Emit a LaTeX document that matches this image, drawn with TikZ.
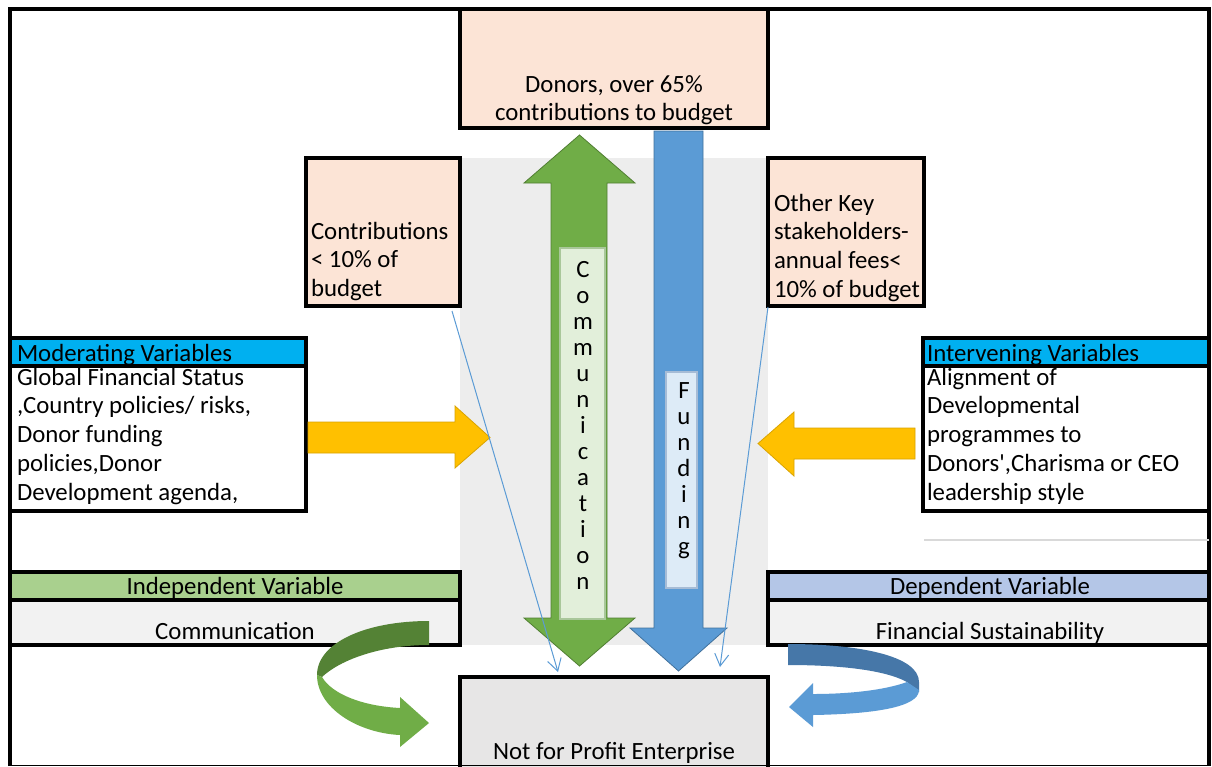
\documentclass[tikz,border=0pt]{standalone}
\usepackage{fontspec}
\setmainfont{Carlito}[Ligatures=TeXOff]
\usetikzlibrary{arrows.meta}
\definecolor{peach}{HTML}{FCE4D6}
\definecolor{cyanhead}{HTML}{00B0F0}
\definecolor{greenhead}{HTML}{A9D08E}
\definecolor{bluehead}{HTML}{B4C6E7}
\definecolor{bodygray}{HTML}{F2F2F2}
\definecolor{nfpgray}{HTML}{E7E6E6}
\definecolor{bggray}{HTML}{EDEDED}
\definecolor{glight}{HTML}{70AD47}
\definecolor{gdark}{HTML}{548235}
\definecolor{gline}{HTML}{507E32}
\definecolor{blight}{HTML}{5B9BD5}
\definecolor{bdark}{HTML}{4677A8}
\definecolor{bline}{HTML}{41719C}
\definecolor{yfill}{HTML}{FFC000}
\definecolor{yline}{HTML}{D9A300}
\definecolor{commfill}{HTML}{E2EFDA}
\definecolor{commline}{HTML}{A9C79A}
\definecolor{fundfill}{HTML}{DDEBF7}
\definecolor{fundline}{HTML}{A6BCD6}
\definecolor{sepgray}{HTML}{D9D9D9}
\newcommand\mainfs{\fontsize{24.8}{28.9}\selectfont}
\newcommand\vertfs{\fontsize{24.8}{26}\selectfont}
\begin{document}
\begin{tikzpicture}[x=1pt,y=-1pt,
  box/.style={draw=black,line width=3.4pt,inner sep=0pt,outer sep=0pt},
  txt/.style={inner sep=0pt,outer sep=0pt,font=\mainfs,text=black},
  vtxt/.style={inner sep=0pt,outer sep=0pt,font=\vertfs,text=black,anchor=base},
  bigarrow/.style={line width=0.8pt,line join=miter},
  thinarr/.style={draw=blight,line width=1pt,-{Straight Barb[length=12pt,width=14pt,line width=1pt]}}]
\useasboundingbox (0,0) rectangle (1212,766);
\fill[white] (0,0) rectangle (1212,766);
% central gray band
\node[inner sep=0pt,outer sep=0pt,fill=bggray,minimum width=308pt,minimum height=487pt] (band) at (614,401.5) {};
% outer frame
\draw[line width=4.5pt] (10,766) -- (10,9) -- (1209,9) -- (1209,766);
\draw[line width=1pt] (10,765) -- (1209,765);
% boxes
\node[box,fill=peach,minimum width=308pt,minimum height=119pt] (donors) at (614,68.5) {};
\node[box,fill=peach,minimum width=154pt,minimum height=148pt] (contrib) at (383,232) {};
\node[box,fill=peach,minimum width=156pt,minimum height=148pt] (other) at (846,232) {};
\node[box,fill=cyanhead,minimum width=296pt,minimum height=28pt] (modhead) at (158,352) {};
\node[box,fill=white,minimum width=296pt,minimum height=145pt] (modbody) at (158,438.5) {};
\node[box,fill=cyanhead,minimum width=286pt,minimum height=28pt] (inthead) at (1066,352) {};
\node[box,fill=white,minimum width=286pt,minimum height=145pt] (intbody) at (1066,438.5) {};
\draw[sepgray,line width=2pt] (924,540) -- (1209,540);
\node[box,fill=greenhead,minimum width=450pt,minimum height=28pt] (indhead) at (235,586) {};
\node[box,fill=bodygray,minimum width=450pt,minimum height=45pt] (indbody) at (235,622.5) {};
\node[box,fill=bluehead,minimum width=441pt,minimum height=28pt] (dephead) at (988.5,586) {};
\node[box,fill=bodygray,minimum width=441pt,minimum height=45pt] (depbody) at (988.5,622.5) {};
\node[box,fill=nfpgray,minimum width=308pt,minimum height=95pt] (nfp) at (614,724.5) {};
\draw[line width=1pt] (460,765) -- (768,765);
% texts
\node[txt,anchor=base] (tdonors) at (614,92) {\parbox[t]{300pt}{\centering Donors, over 65\%\\contributions to budget}};
\node[txt,anchor=base west] (tcontrib) at (311,239) {\parbox[t]{150pt}{\raggedright Contributions\\< 10\% of\\budget}};
\node[txt,anchor=base west] (tother) at (774,211) {\parbox[t]{150pt}{\raggedright Other Key\\stakeholders-\\annual fees<\\10\% of budget}};
\node[txt,anchor=base west] (tmodhead) at (17,361) {Moderating Variables};
\node[txt,anchor=base west] (tmodbody) at (17,385) {\parbox[t]{290pt}{\raggedright Global Financial Status\\,Country policies/ risks,\\Donor funding\\policies,Donor\\Development agenda,}};
\node[txt,anchor=base west] (tinthead) at (927,361) {Intervening Variables};
\node[txt,anchor=base west] (tintbody) at (927,385) {\parbox[t]{280pt}{\raggedright Alignment of\\Developmental\\programmes to\\Donors',Charisma or CEO\\leadership style}};
\node[txt,anchor=base] (tindhead) at (235,594) {Independent Variable};
\node[txt,anchor=base] (tindbody) at (235,639) {Communication};
\node[txt,anchor=base] (tdephead) at (990,594) {Dependent Variable};
\node[txt,anchor=base] (tdepbody) at (990,639) {Financial Sustainability};
\node[txt,anchor=base] (tnfp) at (614,759) {Not for Profit Enterprise};
% yellow arrows
\draw[bigarrow,fill=yfill,draw=yline] (308,422) -- (455,422) -- (455,406) -- (490,437.5) -- (455,468) -- (455,453) -- (308,453) -- cycle;
\draw[bigarrow,fill=yfill,draw=yline] (915,428) -- (794,428) -- (794,412) -- (758,443.5) -- (794,476) -- (794,459) -- (915,459) -- cycle;
% green double arrow
\draw[bigarrow,fill=glight,draw=gline] (579.5,135) -- (635,183) -- (607,183) -- (607,618) -- (635,618) -- (579.5,666) -- (524,618) -- (551,618) -- (551,183) -- (524,183) -- cycle;
\node[inner sep=0pt,outer sep=0pt,fill=commfill,draw=commline,line width=1.2pt,minimum width=45pt,minimum height=371pt] (comm) at (582.5,433.5) {};
\node[vtxt] (tcomm) at (583,277) {\parbox[t]{30pt}{\centering C\\o\\m\\m\\u\\n\\i\\c\\a\\t\\i\\o\\n}};
% blue down arrow
\draw[bigarrow,fill=blight,draw=bline] (654,131) -- (703,131) -- (703,628) -- (727,628) -- (678.5,671) -- (630,628) -- (654,628) -- cycle;
\node[inner sep=0pt,outer sep=0pt,fill=fundfill,draw=fundline,line width=1.2pt,minimum width=31pt,minimum height=216pt] (fund) at (681.5,480) {};
\node[vtxt] (tfund) at (684,398) {\parbox[t]{30pt}{\centering F\\u\\n\\d\\i\\n\\g}};
% thin connectors
\coordinate (l1s) at (452,311);
\coordinate (l1e) at (558,672);
\coordinate (l2s) at (768,307);
\coordinate (l2e) at (720,667);
\draw[thinarr] (l1s) -- (l1e);
\draw[thinarr] (l2s) -- (l2e);
% green curved arrow
\fill[gdark] (429,621) .. controls (365,621) and (317,643) .. (317,675) -- (322,677) .. controls (340,660) and (380,645) .. (429,645) -- cycle;
\fill[glight] (317,675) .. controls (317,708) and (358,733) .. (400,735) -- (400,747) -- (429,723) -- (400,697) -- (400,708) .. controls (362,706) and (332,694) .. (322,677) -- cycle;
% blue curved arrow
\fill[bdark] (788,644) .. controls (860,644) and (919,656) .. (919,682) -- (919,692) -- (907,682) .. controls (885,670) and (840,665) .. (788,665) -- cycle;
\fill[blight] (907,682) .. controls (885,690) and (850,694) .. (813,694) -- (813,683) -- (789,707) -- (813,727) -- (813,715) .. controls (870,714) and (919,708) .. (919,690) -- cycle;
\end{tikzpicture}
\end{document}
